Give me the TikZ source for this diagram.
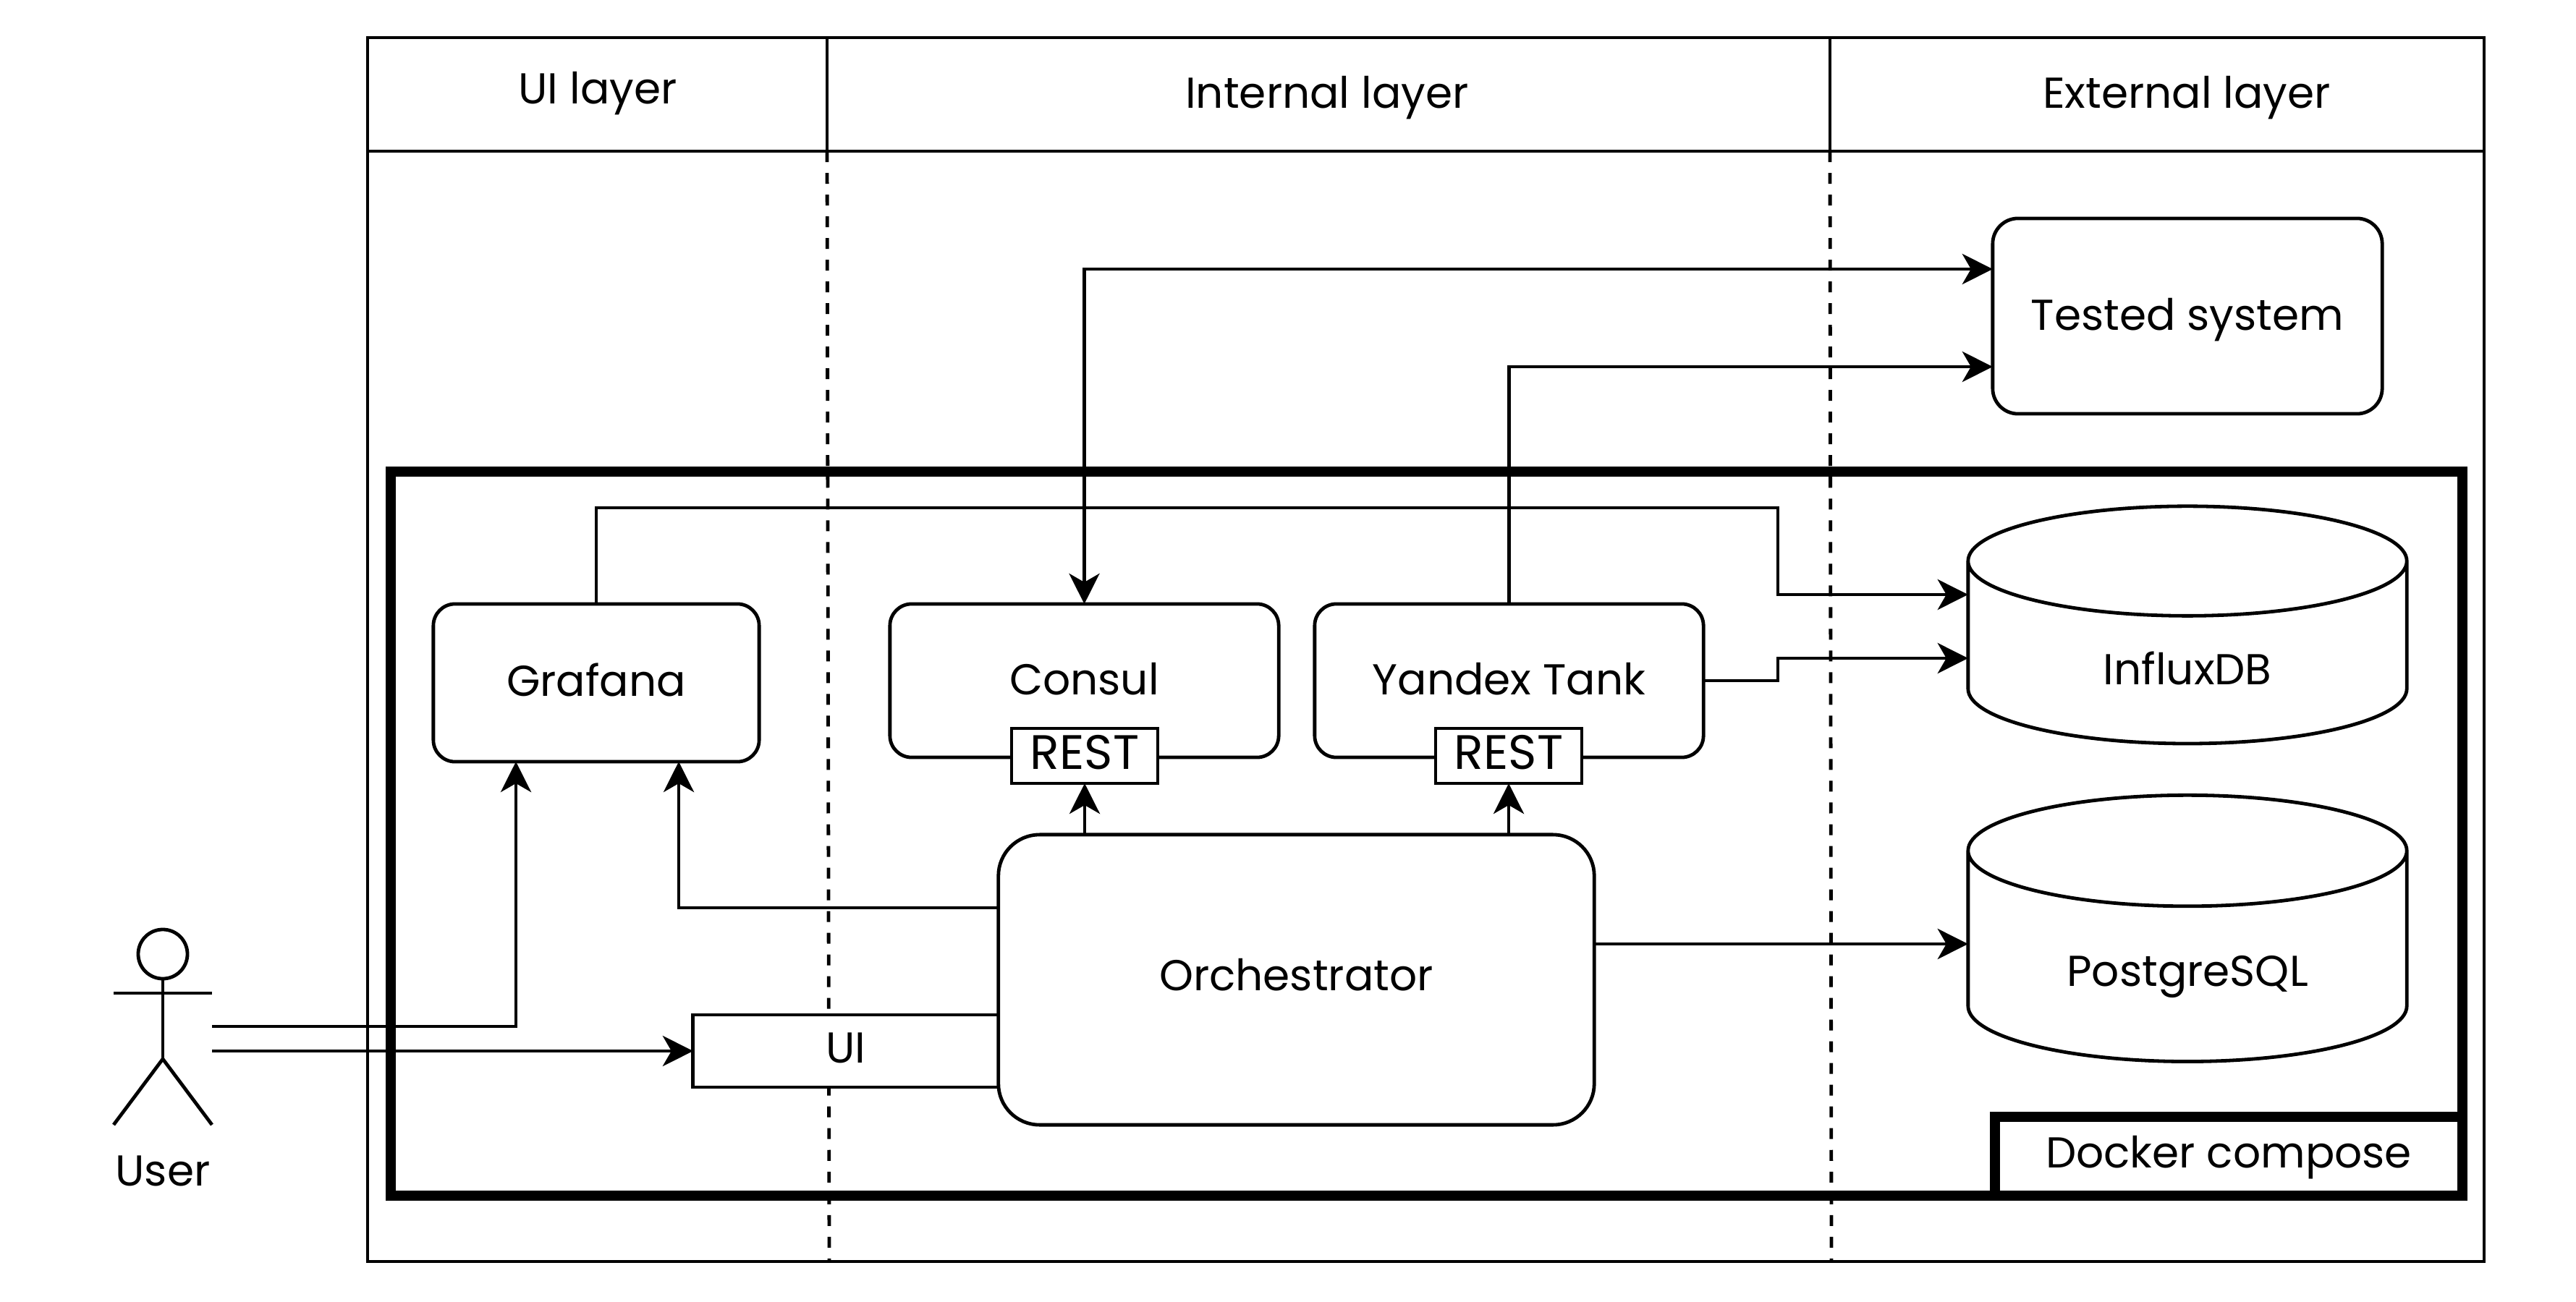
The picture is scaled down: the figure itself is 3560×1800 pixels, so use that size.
\documentclass[tikz,border=0pt]{standalone}
\usepackage{fontspec}
\setmainfont{Poppins}
\usetikzlibrary{arrows.meta,shapes.geometric}
\newcommand{\lifted}[2]{\raisebox{#1}[\height][\depth]{#2}}

\begin{document}
\begin{tikzpicture}[x=.01cm, y=-.01cm, line width=.048cm,
  every node/.style={font=\fontsize{17}{20}\selectfont, inner sep=0pt, outer sep=0pt},
  >={Stealth[length=.42cm, width=.42cm, inset=.12cm]},
  service/.style={draw, fill=white, rounded corners=.3cm},
  restport/.style={draw, fill=white, minimum width=2.02cm, minimum height=.76cm, font=\fontsize{19}{20}\selectfont},
  database/.style={draw, fill=white, cylinder, shape border rotate=90,
    minimum width=6.06cm},
  flow/.style={->},
  thickline/.style={line width=.14cm}]
\useasboundingbox (0,0) rectangle (3560,1800);
% big rectangle
\draw (508,52) rectangle (3433,1744);
% header of the layers
\draw (508,209) -- (3433,209);
\draw (1143,52) -- (1143,209);
\draw (2529,52) -- (2529,209);
\node (uilayer) at (826,129) {UI layer};
\node (internallayer) at (1834,135) {Internal layer};
\node (externallayer) at (3022,135) {External layer};
% layer borders
\draw[dashed, dash pattern=on .15cm off .15cm] (1143,209) -- (1146,1744);
\draw[dashed, dash pattern=on .15cm off .15cm] (2529,209) -- (2531,1744);
% docker frame
\draw[thickline] (540,652) rectangle (3403,1653);
\node[draw, thickline, fill=white, minimum width=6.46cm, minimum height=1.09cm] (dockerlabel) at (3080,1598.5) {\lifted{-.02cm}{Docker compose}};
% services
\node[service, minimum width=4.5cm, minimum height=2.18cm] (grafana) at (824,944) {\lifted{.045cm}{Grafana}};
\node[service, minimum width=5.37cm, minimum height=2.12cm] (consul) at (1498.5,941) {\lifted{.02cm}{Consul}};
\node[service, minimum width=5.37cm, minimum height=2.12cm] (tank) at (2085.5,941) {\lifted{.02cm}{Yandex Tank}};
\node[restport] (consulrest) at (1499,1045) {\lifted{.05cm}{REST}};
\node[restport] (tankrest) at (2085,1045) {\lifted{.05cm}{REST}};
\node[service, rounded corners=.35cm, minimum width=5.38cm, minimum height=2.7cm] (tested) at (3023,437) {\lifted{-.05cm}{Tested system}};
\node[draw, fill=white, minimum width=4.22cm, minimum height=1cm] (ui) at (1169,1453) {\lifted{.04cm}{UI}};
\node[service, rounded corners=.57cm, minimum width=8.23cm, minimum height=4.01cm] (orchestrator) at (1791.5,1354.5) {\lifted{.07cm}{Orchestrator}};
% databases
\node[database, aspect=.65, minimum height=3.28cm] (influxdb) at (3023,903) {\lifted{-.21cm}{InfluxDB}};
\node[database, aspect=.46, minimum height=3.68cm] (postgres) at (3023,1323) {\lifted{-.27cm}{PostgreSQL}};
% user
\node[draw, circle, minimum size=.68cm] (head) at (225,1319) {};
\node (user) at (225,1619) {User};
\coordinate (hip) at (225,1464);
\draw (head.south) -- (hip);
\draw (157,1373) -- (293,1373);
\draw (157,1555) -- (hip) -- (293,1555);
% connectors
\coordinate (userup) at (293,1419);
\coordinate (userui) at (293,1453);
\draw[flow] (userup) -- (713,1419) -- (713,1053);
\draw[flow] (userui) -- (ui.west);
\draw[flow] (orchestrator.west |- 0,1255) -- (938,1255) -- (938,1053);
\draw[flow] (orchestrator.north -| consulrest.south) -- (consulrest.south);
\draw[flow] (orchestrator.north -| tankrest.south) -- (tankrest.south);
\draw[flow] (orchestrator.east |- 0,1305) -- (postgres.west |- 0,1305);
\draw[flow] (grafana.north) -- (824,702) -- (2457,702) -- (2457,822) -- (influxdb.west |- 0,822);
\draw[flow] (tank.east) -- (2457,941) -- (2457,910) -- (influxdb.west |- 0,910);
\draw[<->] (consul.north) -- (1498.5,372) -- (tested.west |- 0,372);
\draw[flow] (tank.north) -- (2085.5,507) -- (tested.west |- 0,507);
\end{tikzpicture}
\end{document}
